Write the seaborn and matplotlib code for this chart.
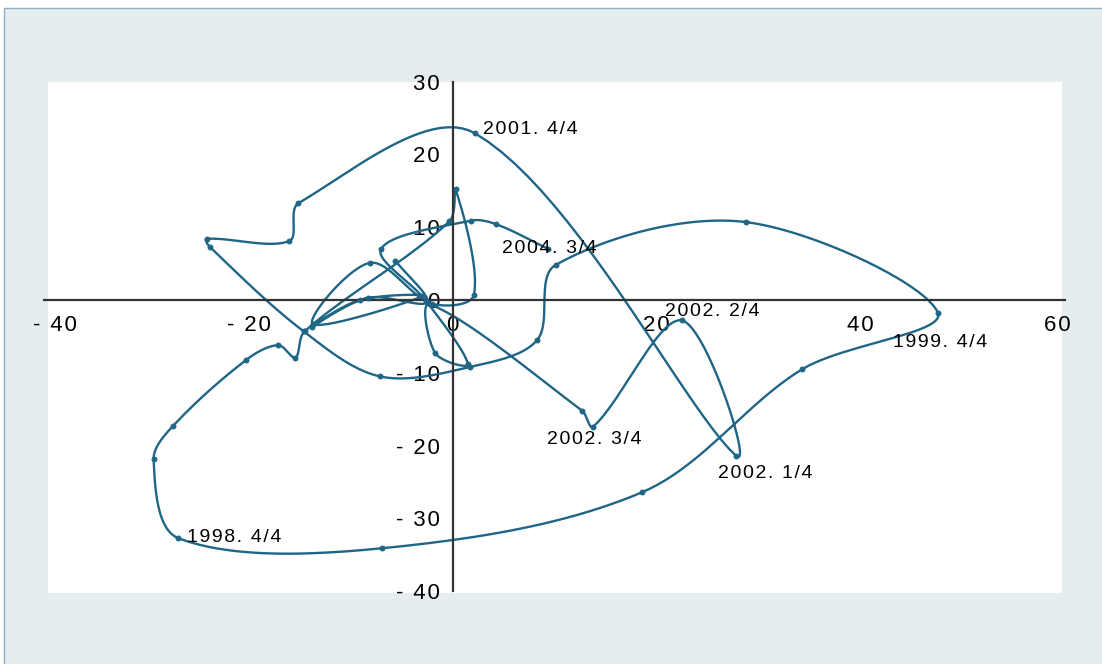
import numpy as np
import pandas as pd
import matplotlib
matplotlib.use("Agg")
import matplotlib.pyplot as plt
from matplotlib.patches import Rectangle
from matplotlib.transforms import ScaledTranslation
import seaborn as sns

# path (x = first axis, y = second axis)
xs = [-5.6, -2.5, -8.3, -13.8, -9.1, -3.0, -13.7, -8.1, -2.0, 2.1,
      0.3, -0.3, -14.5, -15.4, -17.1, -20.2, -27.4, -29.3, -26.9, -6.9,
      18.6, 34.3, 47.6, 28.8, 10.1, 8.3, 1.7, -7.1, -14.6, -23.8,
      -24.1, -16.0, -15.1, 2.2, 27.8, 22.5, 13.8, 12.7, -2.2, -1.7,
      1.5, -2.6, -7.0, 1.8, 4.3, 9.4]
ys = [5.4, -0.3, 0.3, -3.7, 0.0, 0.5, -3.3, 5.1, -0.5, 0.7,
      15.2, 10.8, -4.3, -7.9, -6.2, -8.2, -17.3, -21.9, -32.7, -34.1,
      -26.4, -9.5, -1.8, 10.7, 4.8, -5.5, -9.2, -10.5, -4.3, 7.3,
      8.4, 8.1, 13.3, 22.9, -21.4, -2.8, -17.4, -15.2, -0.6, -7.3,
      -8.8, -0.1, 7.0, 10.9, 10.4, 7.0]

# labels next to some quarters: text and where the text starts
label_txt = ["1998. 4/4", "1999. 4/4", "2001. 4/4", "2002. 1/4",
             "2002. 2/4", "2002. 3/4", "2004. 3/4"]
label_x = [-26.0, 43.2, 3.0, 26.0, 20.8, 9.3, 4.9]
label_y = [-32.6, -5.9, 23.4, -23.9, -1.6, -19.2, 7.1]

x_ticks = [-40, -20, 0, 20, 40, 60]
y_ticks = [-40, -30, -20, -10, 0, 10, 20, 30]

LINE = "#1f6586"
PX_X, PX_Y = 10.2, 7.28   # screen pixels per data unit, used for smoothing
HS = "\u200a"             # hair space, the original text is letter-spaced


def spaced(s):
    return HS.join(s)


def tick_text(v):
    return spaced(f"- {abs(v)}" if v < 0 else str(v))


def smooth(x, y, tension=1 / 3, n=24):
    # excel-like smoothed line: bezier segments, tangents weighted by chord length
    P = np.column_stack([np.asarray(x) * PX_X, np.asarray(y) * PX_Y])
    out = [P[0]]
    t = np.linspace(0, 1, n)[1:, None]
    for i in range(len(P) - 1):
        p0 = P[i - 1] if i > 0 else P[i]
        p1, p2 = P[i], P[i + 1]
        p3 = P[i + 2] if i + 2 < len(P) else P[i + 1]
        d01 = np.linalg.norm(p1 - p0)
        d12 = np.linalg.norm(p2 - p1)
        d23 = np.linalg.norm(p3 - p2)
        c1 = p1 + (p2 - p0) * tension * d12 / max(d01 + d12, 1e-9)
        c2 = p2 - (p3 - p1) * tension * d12 / max(d12 + d23, 1e-9)
        seg = ((1 - t) ** 3) * p1 + 3 * ((1 - t) ** 2) * t * c1 + 3 * (1 - t) * t ** 2 * c2 + t ** 3 * p2
        out.extend(seg)
    out = np.array(out)
    return out[:, 0] / PX_X, out[:, 1] / PX_Y


sns.set_theme(style="white")
plt.rcParams["font.family"] = ["Liberation Sans", "DejaVu Sans"]

fig = plt.figure(figsize=(11.02, 6.64), dpi=100)
fig.patch.set_facecolor("white")
W, H = 1102, 664
fig.patches.append(Rectangle((4 / W, -0.1), 1.1, (H - 8) / H + 0.1, transform=fig.transFigure,
                             facecolor="#e5edf1", edgecolor="#8db0c2", linewidth=1.0,
                             zorder=-3))
fig.patches.append(Rectangle((48 / W, (H - 593) / H), (1062 - 48) / W, (593 - 82) / H,
                             transform=fig.transFigure, facecolor="white", edgecolor="none",
                             zorder=-2))

ax = fig.add_axes([44.5 / W, (H - 591.2) / H, 1020 / W, 509.6 / H])
ax.set_facecolor("none")

sx, sy = smooth(xs, ys)
curve = pd.DataFrame({"x": sx, "y": sy})
pts = pd.DataFrame({"x": xs, "y": ys})
sns.lineplot(data=curve, x="x", y="y", sort=False, estimator=None, color=LINE,
             linewidth=1.7, ax=ax)
sns.scatterplot(data=pts, x="x", y="y", color=LINE, s=14, edgecolor=LINE,
                linewidth=0.5, ax=ax, zorder=3)

for txt, lx, ly in zip(label_txt, label_x, label_y):
    ax.text(lx, ly, spaced(txt), fontsize=14, va="center", ha="left", color="black", zorder=4)

ax.set_xlim(-40, 60)
ax.set_ylim(-40, 30)
ax.set_xlabel("")
ax.set_ylabel("")
for s in ["top", "right"]:
    ax.spines[s].set_visible(False)
for s in ["left", "bottom"]:
    ax.spines[s].set_position(("data", 0))
    ax.spines[s].set_color("#333333")
    ax.spines[s].set_linewidth(1.6)
ax.set_xticks(x_ticks)
ax.set_yticks(y_ticks)
ax.set_xticklabels([tick_text(v) for v in x_ticks])
ax.set_yticklabels([tick_text(v) for v in y_ticks])
ax.tick_params(axis="both", direction="in", length=5, width=1.2, color="#333333",
               labelsize=16, labelcolor="black")
ax.tick_params(axis="x", pad=11)
ax.tick_params(axis="y", pad=9)

# the end labels sit a little inside the plot area in the original
xl = ax.get_xticklabels()
xl[0].set_transform(xl[0].get_transform() + ScaledTranslation(10 / 100, 0, fig.dpi_scale_trans))
xl[-1].set_transform(xl[-1].get_transform() + ScaledTranslation(-7 / 100, 0, fig.dpi_scale_trans))

fig.savefig("out.png", dpi=100, facecolor=fig.get_facecolor())
